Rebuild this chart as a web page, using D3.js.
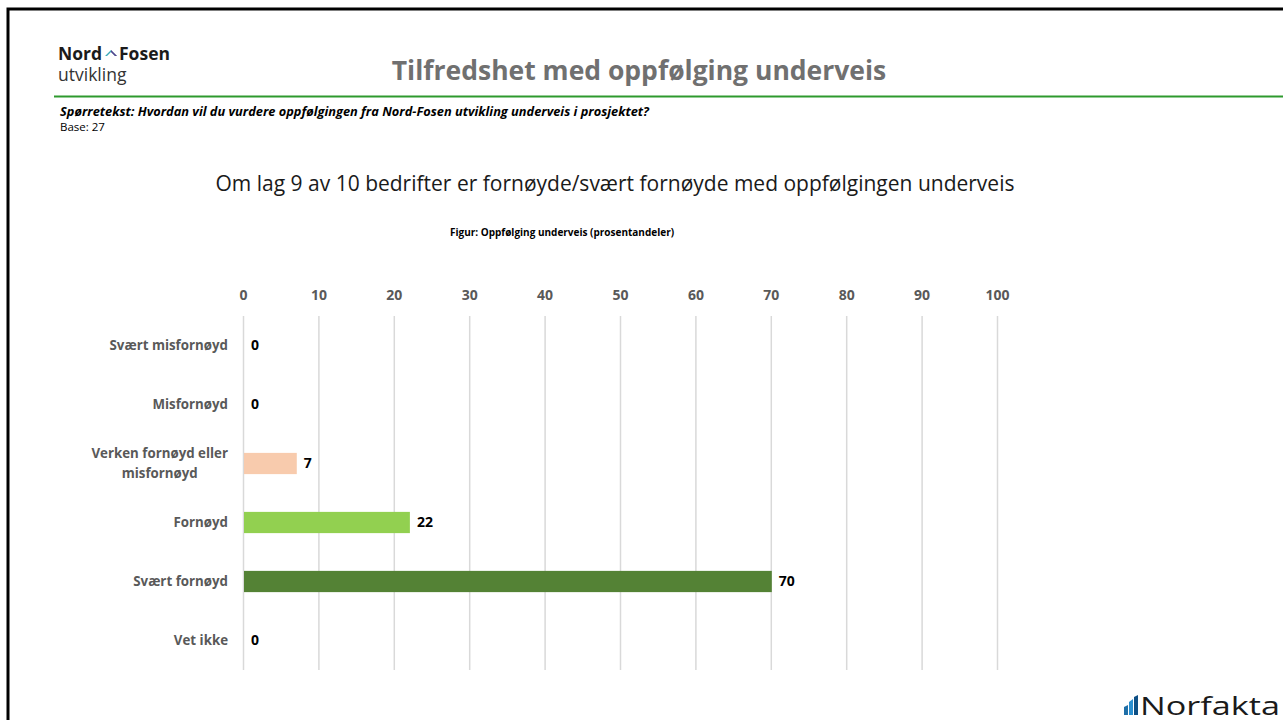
<!DOCTYPE html>
<html>
<head>
<meta charset="utf-8">
<script src="https://cdn.jsdelivr.net/npm/d3@7"></script>
<style>
  body { margin: 0; background: #fff; }
  svg { display: block; font-family: "Open Sans", "Noto Sans", sans-serif; }
  .tick text { font-weight: bold; fill: #595959; font-size: 14px; font-family: "Open Sans", sans-serif; }
</style>
</head>
<body>
<script>
// data
var categories = ["Svært misfornøyd", "Misfornøyd", "Verken fornøyd eller misfornøyd", "Fornøyd", "Svært fornøyd", "Vet ikke"];
var values = [0, 0, 7, 22, 70, 0];
var barColors = ["#F8CBAD", "#F8CBAD", "#F8CBAD", "#92D050", "#548235", "#548235"];
var tickValues = [0, 10, 20, 30, 40, 50, 60, 70, 80, 90, 100];
var labelLines = { "Verken fornøyd eller misfornøyd": ["Verken fornøyd eller", "misfornøyd"] };

var width = 1283, height = 720;
var margin = { left: 243, right: 286, top: 316, bottom: 50 };

var svg = d3.select("body").append("svg")
	.attr("width", width)
	.attr("height", height);

// slide frame
svg.append("path")
	.attr("d", "M8,720 V9 H1283")
	.attr("fill", "none")
	.attr("stroke", "#000")
	.attr("stroke-width", 3);

// Nord-Fosen logo
var logo = svg.append("g").attr("transform", "translate(58,0)");
logo.append("text").attr("x", 0).attr("y", 60)
	.style("font-size", "17.5px").style("font-weight", "bold").attr("fill", "#1b1b1b")
	.text("Nord");
logo.append("path").attr("d", "M47,56 L53,50 L59,56 L57,56 L53,52 L49,56 Z").attr("fill", "#3aa9b8");
logo.append("path").attr("d", "M53,50 L59,56 L57,56 L53,52 Z").attr("fill", "#5b3f8c");
logo.append("text").attr("x", 61).attr("y", 60)
	.style("font-size", "17.5px").style("font-weight", "bold").attr("fill", "#1b1b1b")
	.text("Fosen");
logo.append("text").attr("x", 0).attr("y", 81)
	.style("font-size", "17.5px").attr("fill", "#333")
	.text("utvikling");

// page title and green rule
svg.append("text")
	.attr("x", 639).attr("y", 80)
	.attr("text-anchor", "middle")
	.style("font-size", "26.5px").style("font-weight", "bold")
	.attr("fill", "#707070")
	.text("Tilfredshet med oppfølging underveis");

svg.append("line")
	.attr("x1", 54).attr("x2", 1283).attr("y1", 96.5).attr("y2", 96.5)
	.attr("stroke", "#2e9a2e").attr("stroke-width", 2);

svg.append("text")
	.attr("x", 60).attr("y", 116)
	.style("font-size", "12.8px").style("font-weight", "bold").style("font-style", "italic")
	.attr("fill", "#000")
	.text("Spørretekst: Hvordan vil du vurdere oppfølgingen fra Nord-Fosen utvikling underveis i prosjektet?");
svg.append("text")
	.attr("x", 60).attr("y", 131)
	.style("font-size", "11.5px").attr("fill", "#000")
	.text("Base: 27");

svg.append("text")
	.attr("x", 615).attr("y", 191)
	.attr("text-anchor", "middle")
	.style("font-size", "21px").attr("fill", "#1a1a1a")
	.text("Om lag 9 av 10 bedrifter er fornøyde/svært fornøyde med oppfølgingen underveis");

svg.append("text")
	.attr("x", 562).attr("y", 236)
	.attr("text-anchor", "middle")
	.style("font-size", "10px").style("font-weight", "bold").attr("fill", "#000")
	.text("Figur: Oppfølging underveis (prosentandeler)");

// scales
var x = d3.scaleLinear().domain([0, 100]).range([margin.left, width - margin.right]);
var y = d3.scaleBand().domain(categories)
	.range([margin.top, height - margin.bottom])
	.paddingInner(0.64).paddingOuter(0.32);

// gridlines
var grid = svg.append("g")
	.attr("transform", "translate(0," + margin.top + ")")
	.call(d3.axisBottom(x).tickValues(tickValues).tickSize(height - margin.bottom - margin.top).tickFormat(""));
grid.select(".domain").remove();
grid.selectAll("line").attr("stroke", "#d9d9d9").attr("stroke-width", 1.5);

// top axis labels
var xAxis = svg.append("g")
	.attr("transform", "translate(0," + margin.top + ")")
	.call(d3.axisTop(x).tickValues(tickValues).tickSize(0).tickPadding(16));
xAxis.select(".domain").remove();

// bars
svg.append("g").selectAll("rect")
	.data(values)
	.enter().append("rect")
	.attr("x", x(0) + 1)
	.attr("y", function(d, i) { return y(categories[i]); })
	.attr("width", function(d) { return Math.max(0, x(d) - x(0)); })
	.attr("height", y.bandwidth())
	.attr("fill", function(d, i) { return barColors[i]; })
	.style("display", function(d) { return d > 0 ? null : "none"; });

// value labels
svg.append("g").selectAll("text")
	.data(values)
	.enter().append("text")
	.attr("x", function(d) { return x(d) + 8; })
	.attr("y", function(d, i) { return y(categories[i]) + y.bandwidth() / 2; })
	.attr("dy", "0.35em")
	.style("font-size", "14px").style("font-weight", "bold").attr("fill", "#000")
	.text(function(d) { return d; });

// category labels
var catG = svg.append("g");
categories.forEach(function(c) {
	var cy = y(c) + y.bandwidth() / 2;
	var lines = labelLines[c];
	if (!lines) {
		catG.append("text")
			.attr("x", 228).attr("y", cy).attr("dy", "0.35em")
			.attr("text-anchor", "end")
			.style("font-size", "13.3px").style("font-weight", "bold").attr("fill", "#595959")
			.text(c);
	} else {
		var t = catG.append("text")
			.attr("text-anchor", "middle")
			.style("font-size", "13.3px").style("font-weight", "bold").attr("fill", "#595959");
		var spans = lines.map(function(l, k) {
			return t.append("tspan").attr("x", 0)
				.attr("y", cy + (k - (lines.length - 1) / 2) * 20).attr("dy", "0.35em").text(l);
		});
		var w = d3.max(spans, function(s) { return s.node().getComputedTextLength(); });
		t.selectAll("tspan").attr("x", 228 - w / 2);
	}
});

// Norfakta logo
var nf = svg.append("g").attr("transform", "translate(1124,695)");
nf.append("path").attr("d", "M0,20 L0,12 L4,10 L4,20 Z").attr("fill", "#1f6fa8");
nf.append("path").attr("d", "M5,20 L5,7 L9,4 L9,20 Z").attr("fill", "#2a8fd0");
nf.append("path").attr("d", "M10,20 L10,2 L14,0 L14,20 Z").attr("fill", "#0d4f85");
nf.append("text").attr("x", 16).attr("y", 20)
	.attr("textLength", 140).attr("lengthAdjust", "spacingAndGlyphs")
	.style("font-size", "26px").attr("fill", "#1a1a1a")
	.text("Norfakta");
</script>
</body>
</html>
